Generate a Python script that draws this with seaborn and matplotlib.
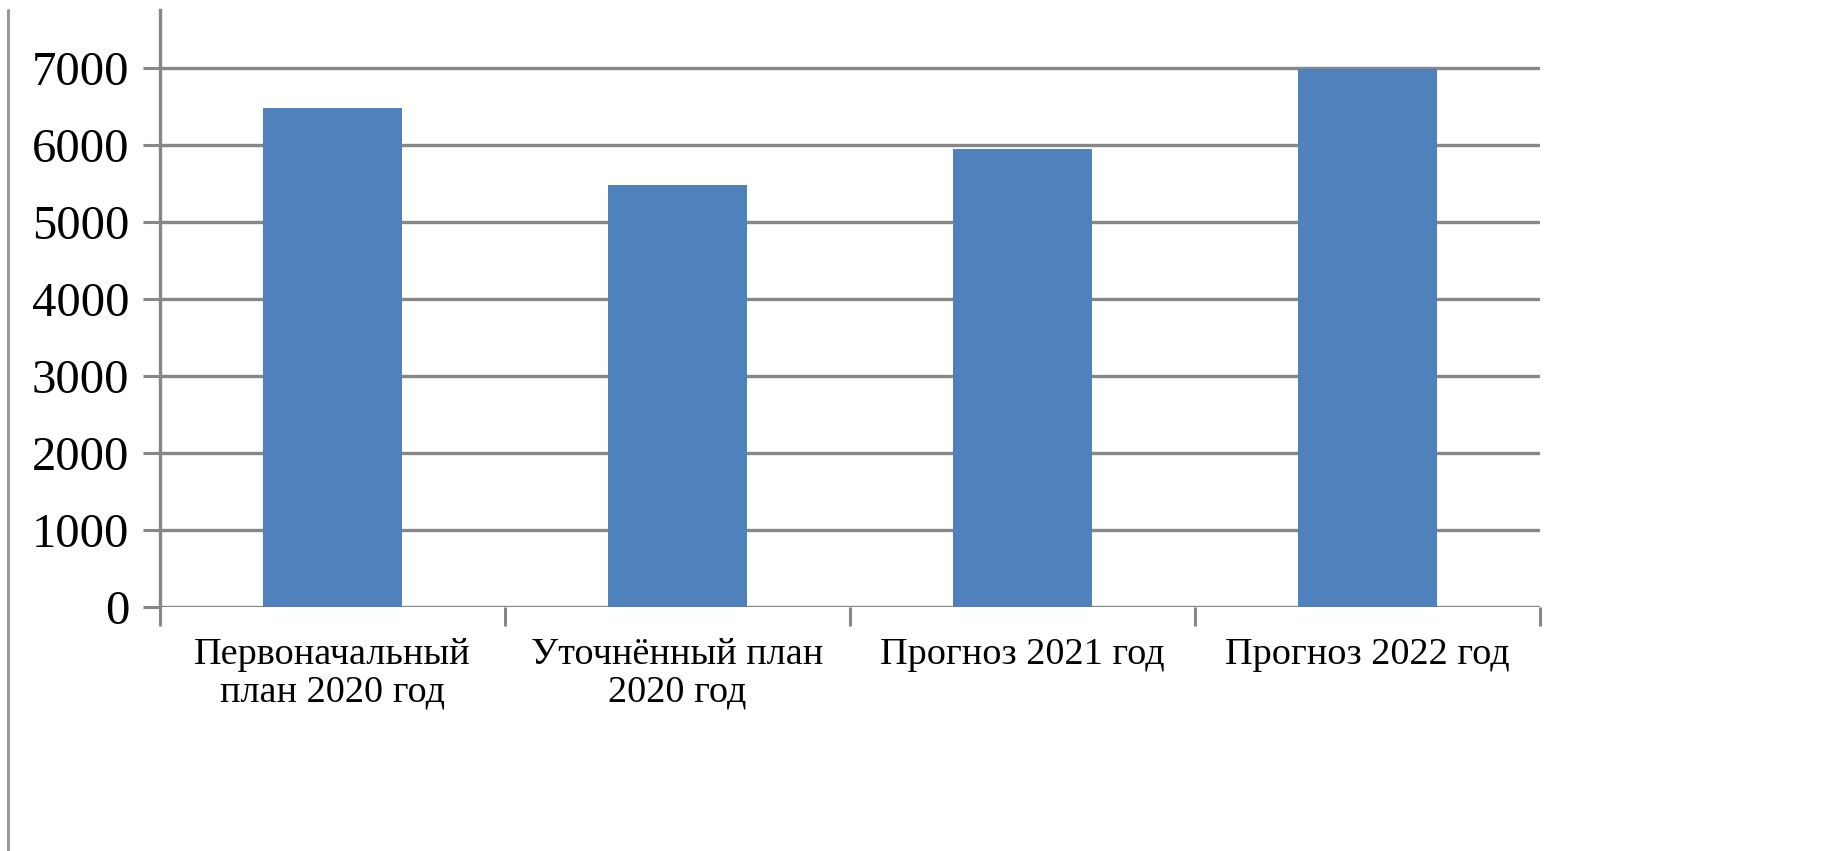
import matplotlib
matplotlib.use("Agg")
import matplotlib.pyplot as plt
import seaborn as sns
import pandas as pd
from matplotlib.lines import Line2D

categories = ["Первоначальный\nплан 2020 год", "Уточнённый план\n2020 год",
              "Прогноз 2021 год", "Прогноз 2022 год"]
values = [6480, 5480, 5950, 6980]
yticks = [0, 1000, 2000, 3000, 4000, 5000, 6000, 7000]

sns.set_theme(style="white")
plt.rcParams['font.family'] = ['Liberation Serif', 'DejaVu Serif']

df = pd.DataFrame({"cat": categories, "val": values})

fig = plt.figure(figsize=(18.3, 8.51), dpi=100)
ax = fig.add_axes([160/1830, 1-607/851, (1540-160)/1830, (607-10)/851])

sns.barplot(data=df, x="cat", y="val", order=categories, color="#4F81BD",
            saturation=1, width=0.405, linewidth=0, ax=ax, zorder=3)

gray = "#878787"
ax.set_xlim(-0.5, 3.5)
ax.set_ylim(0, 7750)
ax.set_yticks(yticks)
ax.set_yticklabels([str(t) for t in yticks], fontsize=35)
for t in yticks:
    ax.axhline(t, color=gray, lw=2.4, zorder=1)

ax.set_xticks(range(len(categories)))
ax.set_xticklabels(categories, fontsize=27.5, linespacing=1.1)
ax.set_xticks([-0.5, 0.5, 1.5, 2.5, 3.5], minor=True)
ax.tick_params(axis='x', which='major', length=0, pad=22, labelcolor='black')
ax.tick_params(axis='x', which='minor', length=14, width=2.2, color=gray, direction='out', bottom=True)
ax.tick_params(axis='y', which='major', length=12, width=2.2, color=gray, direction='out',
               left=True, pad=10, labelcolor='black')
ax.set_xlabel("")
ax.set_ylabel("")

for s in ["top", "right", "bottom"]:
    ax.spines[s].set_visible(False)
ax.spines["left"].set_color(gray)
ax.spines["left"].set_linewidth(2.4)

fig.add_artist(Line2D([8/1830, 8/1830], [0, 1-10/851], transform=fig.transFigure,
                      color="#999999", lw=2.2))

fig.savefig("out.png", dpi=100, facecolor="white")
